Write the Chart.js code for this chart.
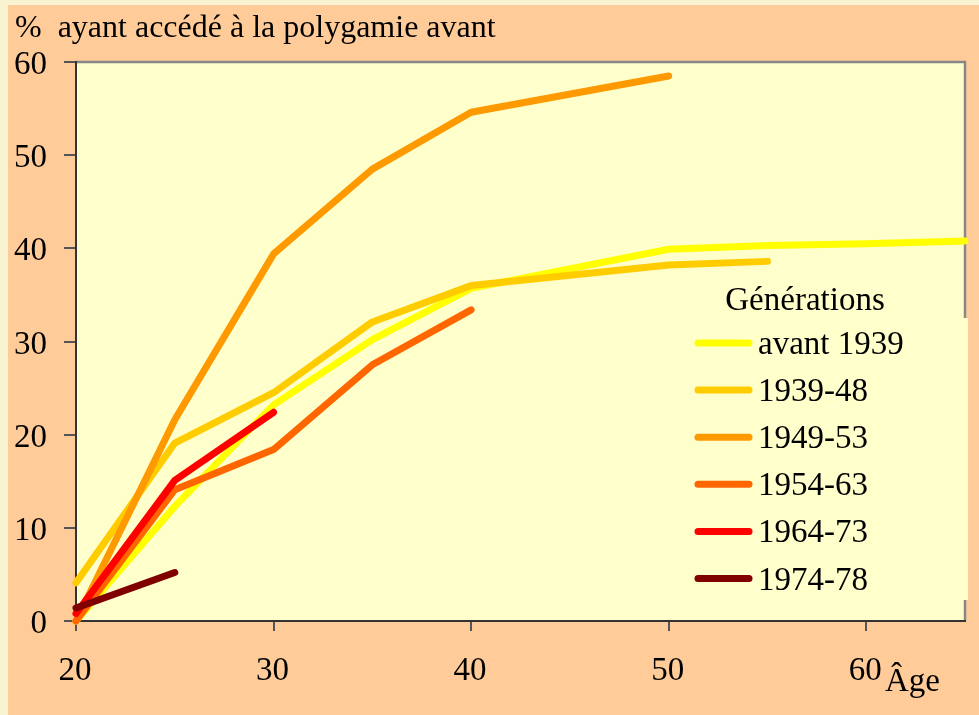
<!DOCTYPE html>
<html>
<head>
<meta charset="utf-8">
<script src="https://cdn.jsdelivr.net/npm/chart.js@4/dist/chart.umd.min.js"></script>
<style>
    body { margin: 0; background: #FAF3D2; }
    #chart { display: block; }
</style>
</head>
<body>
<canvas id="chart" width="979" height="715"></canvas>
<script>
// Ages (x) and % having entered polygamy before that age, per generation
const ages = [20, 25, 30, 35, 40, 50, 55, 60, 65];
const avant1939 = [0, 12.3, 23.2, 30.2, 35.7, 39.9, 40.3, 40.5, 40.8];
const gen1939_48 = [4.1, 19.1, 24.5, 32.1, 36.0, 38.2, 38.6, null, null];
const gen1949_53 = [0, 21.6, 39.4, 48.5, 54.6, 58.5, null, null, null];
const gen1954_63 = [0, 14.1, 18.4, 27.5, 33.4, null, null, null, null];
const gen1964_73 = [0.8, 15.1, 22.4, null, null, null, null, null, null];
const gen1974_78 = [1.4, 5.2, null, null, null, null, null, null, null];

const seriesLabels = ['avant 1939', '1939-48', '1949-53', '1954-63', '1964-73', '1974-78'];
const seriesValues = [avant1939, gen1939_48, gen1949_53, gen1954_63, gen1964_73, gen1974_78];
const seriesColors = ['#FFFF00', '#FFCC00', '#FF9900', '#FF6600', '#FF0000', '#800000'];

const xTicks = [20, 30, 40, 50, 60];
const yTicks = [0, 10, 20, 30, 40, 50, 60];

const yTitle = '%  ayant accédé à la polygamie avant';
const xTitle = 'Âge';
const legendTitle = 'Générations';

const SERIF = '"Liberation Serif", "Times New Roman", serif';

// Background, plot frame, texts and legend
const decor = {
    id: 'decor',
    beforeDraw(chart) {
        const { ctx, chartArea: a } = chart;
        ctx.save();
        ctx.fillStyle = '#FAF3D2';
        ctx.fillRect(0, 0, chart.width, chart.height);
        ctx.fillStyle = '#FFCC99';
        ctx.fillRect(8, 5, chart.width - 8, chart.height - 5);
        ctx.fillStyle = '#FFFFCC';
        ctx.fillRect(a.left, a.top, a.right - a.left, a.bottom - a.top);
        ctx.strokeStyle = '#888888';
        ctx.lineWidth = 2.5;
        ctx.beginPath();
        ctx.moveTo(a.left, a.top);
        ctx.lineTo(a.right, a.top);
        ctx.lineTo(a.right, a.bottom);
        ctx.stroke();
        ctx.restore();
    },
    afterDraw(chart) {
        const { ctx, chartArea: a, scales } = chart;
        ctx.save();
        ctx.fillStyle = '#000000';
        ctx.textBaseline = 'alphabetic';

        // Title
        ctx.font = '32px ' + SERIF;
        ctx.textAlign = 'left';
        ctx.fillText(yTitle, 15, 37);

        ctx.font = '33px ' + SERIF;
        // Y tick labels
        ctx.textAlign = 'right';
        scales.y.ticks.forEach(t => {
            ctx.fillText(String(t.value), 47, scales.y.getPixelForValue(t.value) + 12);
        });

        // X tick labels
        ctx.textAlign = 'center';
        scales.x.ticks.forEach(t => {
            ctx.fillText(String(t.value), scales.x.getPixelForValue(t.value) - 1, a.bottom + 59);
        });

        // X title
        ctx.textAlign = 'left';
        ctx.fillText(xTitle, 885, 691);

        // Legend box
        ctx.fillStyle = '#FFFFCC';
        ctx.fillRect(686, 318, 282, 282);
        ctx.fillStyle = '#000000';
        ctx.textAlign = 'center';
        ctx.fillText(legendTitle, 805, 310);

        ctx.textAlign = 'left';
        ctx.lineCap = 'round';
        ctx.lineWidth = 7;
        chart.data.datasets.forEach((ds, i) => {
            const y = 343 + i * 47.1;
            ctx.strokeStyle = ds.borderColor;
            ctx.beginPath();
            ctx.moveTo(698, y);
            ctx.lineTo(749, y);
            ctx.stroke();
            ctx.fillText(ds.label, 758, y + 11);
        });
        ctx.restore();
    }
};

const datasets = seriesLabels.map((label, i) => ({
    label: label,
    data: ages
        .map((age, j) => ({ x: age, y: seriesValues[i][j] }))
        .filter(p => p.y !== null),
    borderColor: seriesColors[i],
    backgroundColor: seriesColors[i],
    borderWidth: 7,
    borderCapStyle: 'round',
    borderJoinStyle: 'round',
    pointRadius: 0,
    tension: 0,
    fill: false,
    clip: false,
    order: seriesLabels.length - i
}));

const ctx = document.getElementById('chart').getContext('2d');
new Chart(ctx, {
    type: 'line',
    data: { datasets: datasets },
    options: {
        responsive: false,
        animation: false,
        events: [],
        layout: { padding: { top: 62, right: 14, left: 0, bottom: 0 } },
        plugins: {
            legend: { display: false },
            tooltip: { enabled: false }
        },
        scales: {
            x: {
                type: 'linear',
                min: 20,
                max: 65,
                afterBuildTicks: s => { s.ticks = xTicks.map(v => ({ value: v })); },
                afterFit: s => { s.height = 94; },
                ticks: { display: false },
                grid: { drawOnChartArea: false, drawTicks: true, tickLength: 10, color: '#555555', lineWidth: 2 },
                border: { color: '#333333', width: 2 }
            },
            y: {
                type: 'linear',
                min: 0,
                max: 60,
                afterBuildTicks: s => { s.ticks = yTicks.map(v => ({ value: v })); },
                afterFit: s => { s.width = 76; },
                ticks: { display: false },
                grid: { drawOnChartArea: false, drawTicks: true, tickLength: 12, color: '#555555', lineWidth: 2 },
                border: { color: '#333333', width: 2 }
            }
        }
    },
    plugins: [decor]
});
</script>
</body>
</html>
